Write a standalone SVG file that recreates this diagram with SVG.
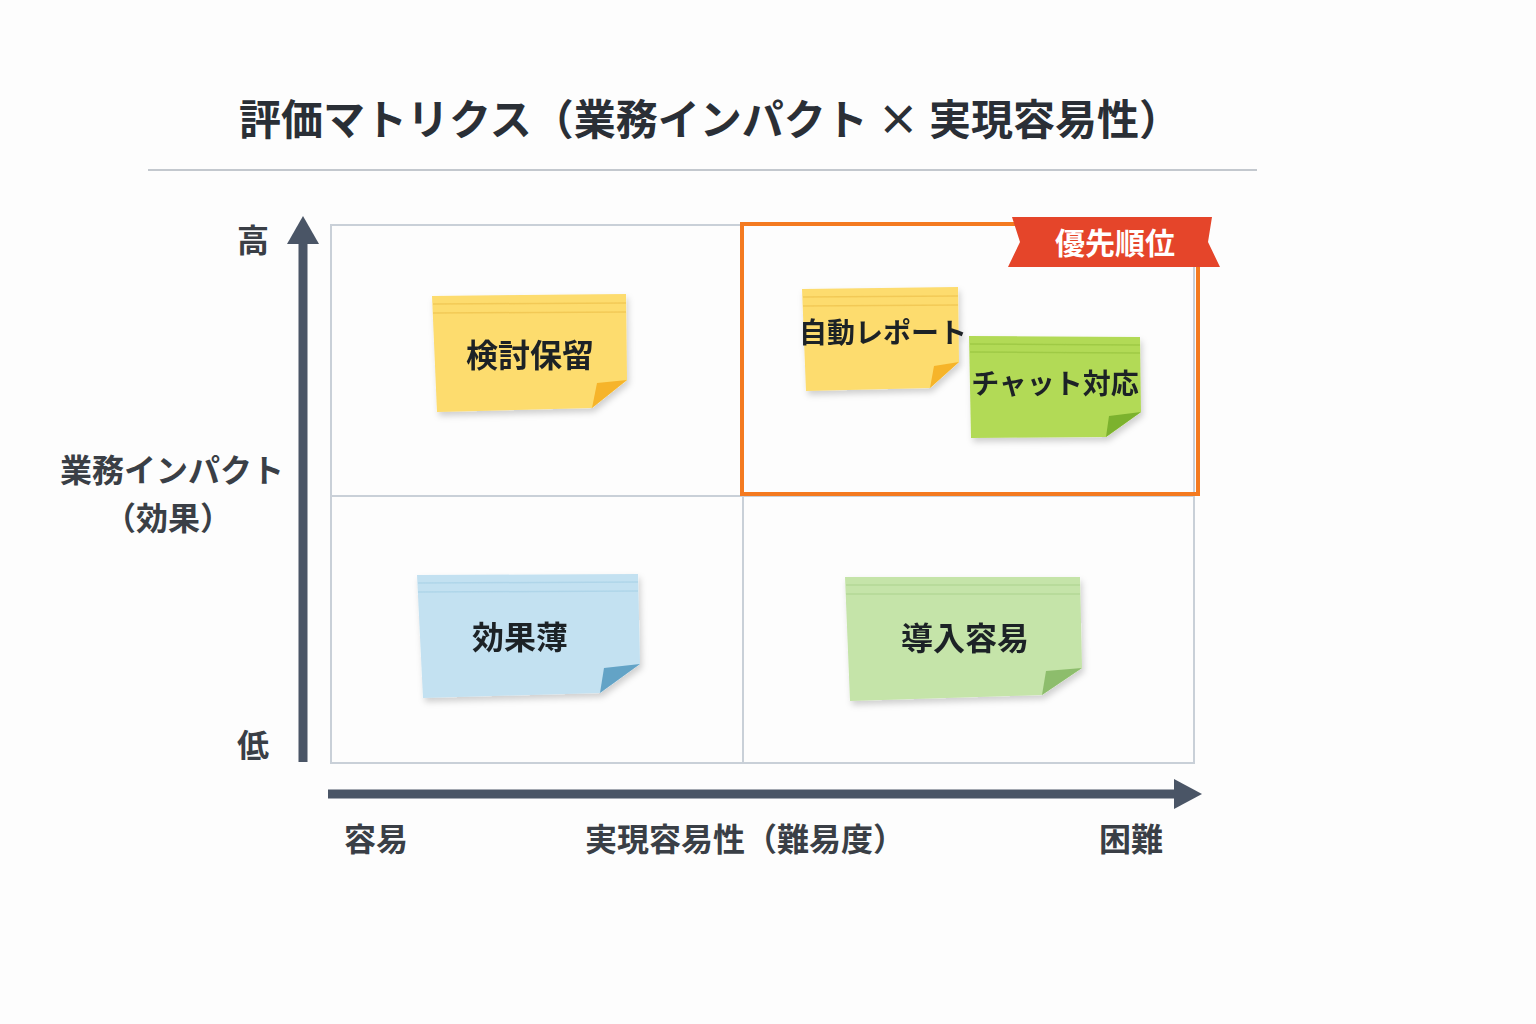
<svg xmlns="http://www.w3.org/2000/svg" width="1536" height="1024" viewBox="0 0 1536 1024">
<style>
text{font-family:"Noto Sans CJK JP","Noto Sans",sans-serif;font-weight:700;fill:#2a2f36;text-anchor:middle}
.t{font-size:42px}
.ax{font-size:32px;fill:#3a3f46}
.n{font-size:32px;fill:#1e2226}
.g{fill:none;stroke:#c9d0d8;stroke-width:2}
.ln{stroke-width:1.5;opacity:.5}
</style>
<defs>
<filter id="sh" x="-10%" y="-10%" width="125%" height="130%"><feDropShadow dx="2" dy="4" stdDeviation="3" flood-color="#000" flood-opacity="0.18"/></filter>
</defs>
<rect width="1536" height="1024" fill="#fdfdfd"/>
<text class="t" x="710" y="135">評価マトリクス（業務インパクト × 実現容易性）</text>
<line x1="148" y1="170" x2="1257" y2="170" stroke="#c3c8ce" stroke-width="2"/>
<g id="grid">
<rect class="g" x="331" y="225" width="863" height="538"/>
<line class="g" x1="743" y1="225" x2="743" y2="763"/>
<line class="g" x1="331" y1="496" x2="1194" y2="496"/>
</g>
<g id="connectors">
<line x1="303" y1="762" x2="303" y2="238" stroke="#4a5566" stroke-width="9"/>
<polygon points="287,244 303,216 319,244" fill="#4a5566"/>
<line x1="328" y1="794" x2="1178" y2="794" stroke="#4a5566" stroke-width="9"/>
<polygon points="1174,779 1202,794 1174,809" fill="#4a5566"/>
</g>
<text class="ax" x="253" y="252">高</text>
<text class="ax" x="253" y="757">低</text>
<text class="ax" x="172" y="482">業務インパクト</text>
<text class="ax" x="168" y="530">（効果）</text>
<text class="ax" x="376" y="851">容易</text>
<text class="ax" x="745" y="851">実現容易性（難易度）</text>
<text class="ax" x="1131" y="851">困難</text>
<g id="priority">
<rect x="742" y="224" width="456" height="270" fill="none" stroke="#f47a20" stroke-width="4"/>
<polygon points="1012,217 1212,217 1208,242 1220,267 1008,267 1020,242" fill="#e5452a"/>
<text x="1115" y="254" style="font-size:30px;fill:#fff">優先順位</text>
</g>
<g id="note-kento" filter="url(#sh)">
<polygon points="432,296 626,294 627,380 592,408 437,412" fill="#fddc6e"/>
<line x1="433" y1="304" x2="626" y2="303" stroke="#e8b840" class="ln"/>
<line x1="433" y1="313" x2="626" y2="312" stroke="#e8b840" class="ln"/>
<polygon points="627,380 592,408 597,383" fill="#f6b42a"/>
<text class="n" x="530" y="367">検討保留</text>
</g>
<g id="note-report" filter="url(#sh)">
<polygon points="802,289 958,287 959,362 930,388 806,391" fill="#fddc6e"/>
<line x1="803" y1="297" x2="958" y2="296" stroke="#e8b840" class="ln"/>
<line x1="803" y1="306" x2="958" y2="305" stroke="#e8b840" class="ln"/>
<polygon points="959,362 930,388 934,366" fill="#f6b42a"/>
<text class="n" x="883" y="343" style="font-size:28px">自動レポート</text>
</g>
<g id="note-chat" filter="url(#sh)">
<polygon points="969,336 1140,337 1141,412 1106,437 971,438" fill="#b2da57"/>
<line x1="970" y1="344" x2="1140" y2="345" stroke="#8dbb35" class="ln"/>
<line x1="970" y1="352" x2="1140" y2="353" stroke="#8dbb35" class="ln"/>
<polygon points="1141,412 1106,437 1109,416" fill="#7cb22d"/>
<text class="n" x="1055" y="394" style="font-size:28px">チャット対応</text>
</g>
<g id="note-koka" filter="url(#sh)">
<polygon points="417,575 638,574 640,664 600,693 423,698" fill="#c3e1f1"/>
<line x1="418" y1="583" x2="638" y2="582" stroke="#9ccbe2" class="ln"/>
<line x1="418" y1="592" x2="638" y2="591" stroke="#9ccbe2" class="ln"/>
<polygon points="640,664 600,693 604,668" fill="#63a3c6"/>
<text class="n" x="520" y="649">効果薄</text>
</g>
<g id="note-donyu" filter="url(#sh)">
<polygon points="845,577 1080,577 1082,668 1042,695 850,701" fill="#c5e4a9"/>
<line x1="846" y1="585" x2="1080" y2="585" stroke="#a3cc84" class="ln"/>
<line x1="846" y1="594" x2="1080" y2="594" stroke="#a3cc84" class="ln"/>
<polygon points="1082,668 1042,695 1046,671" fill="#8dbd6c"/>
<text class="n" x="965" y="650">導入容易</text>
</g>
</svg>
